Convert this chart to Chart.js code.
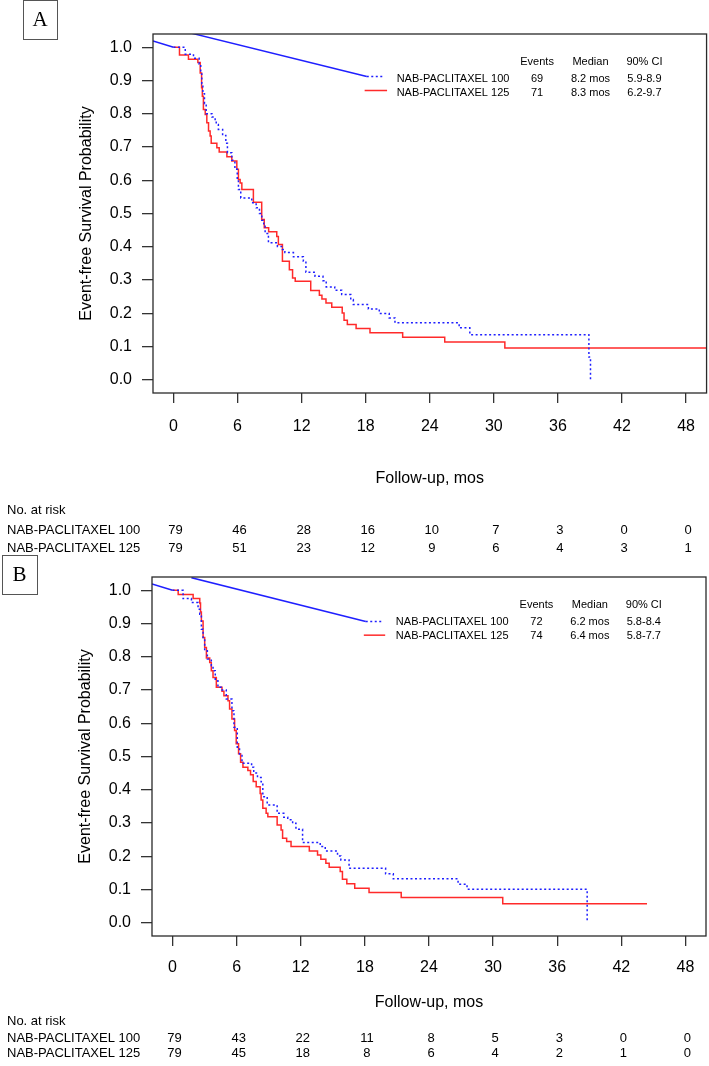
<!DOCTYPE html>
<html>
<head>
<meta charset="utf-8">
<script src="https://cdn.jsdelivr.net/npm/chart.js@4.4.1/dist/chart.umd.min.js"></script>
<style>
  html, body { margin: 0; padding: 0; background: #fff; }
  #page { position: relative; width: 709px; height: 1066px; overflow: hidden; }
  canvas { position: absolute; left: 0; }
  #chartA { top: 0; }
  #chartB { top: 545px; }
</style>
</head>
<body>
<div id="page">
  <canvas id="chartA" width="709" height="565"></canvas>
  <canvas id="chartB" width="709" height="521"></canvas>
</div>
<script>
// ---- shared axis / table labels ----
const xTicks = [0, 6, 12, 18, 24, 30, 36, 42, 48];
const yTicks = [0, 0.1, 0.2, 0.3, 0.4, 0.5, 0.6, 0.7, 0.8, 0.9, 1.0];
const armNames = ["NAB-PACLITAXEL 100", "NAB-PACLITAXEL 125"];
const tableHeads = ["Events", "Median", "90% CI"];

// ---- panel A ----
const timeA100 = [0, 1.1, 1.87, 2.4, 2.55, 2.65, 2.75, 2.9, 3.06, 3.6, 3.9, 4.0, 4.2, 4.6, 4.9, 5.05, 5.46, 5.75, 5.97, 6.08, 6.3, 7.33, 7.74, 8.05, 8.27, 8.45, 8.58, 8.89, 9.73, 10.2, 10.43, 11.23, 12.16, 12.4, 13.25, 14.0, 14.3, 15.1, 15.75, 16.6, 16.84, 18.25, 19.27, 20.2, 20.74, 26.75, 27.75, 38.9, 39.05];
const survA100 = [1.0, 0.979, 0.967, 0.95, 0.92, 0.89, 0.86, 0.83, 0.80, 0.79, 0.783, 0.768, 0.753, 0.735, 0.711, 0.683, 0.66, 0.633, 0.602, 0.572, 0.547, 0.532, 0.517, 0.50, 0.48, 0.462, 0.44, 0.412, 0.401, 0.392, 0.383, 0.37, 0.356, 0.323, 0.311, 0.298, 0.279, 0.269, 0.256, 0.241, 0.226, 0.213, 0.199, 0.186, 0.171, 0.156, 0.1355, 0.068, 0.0];
const timeA125 = [0, 0.56, 1.4, 2.28, 2.5, 2.63, 2.7, 2.8, 2.97, 3.12, 3.28, 3.43, 3.53, 4.06, 4.28, 5.0, 5.46, 5.93, 6.08, 6.24, 6.4, 7.48, 8.26, 8.5, 8.91, 9.67, 9.82, 10.2, 10.85, 11.15, 11.4, 12.85, 13.66, 13.9, 14.28, 14.82, 15.8, 15.97, 16.28, 17.1, 18.4, 21.46, 25.4, 31.03, 50];
const survA125 = [1.0, 0.977, 0.964, 0.954, 0.923, 0.878, 0.853, 0.813, 0.798, 0.773, 0.748, 0.733, 0.711, 0.698, 0.685, 0.671, 0.658, 0.633, 0.602, 0.592, 0.572, 0.534, 0.482, 0.457, 0.445, 0.431, 0.407, 0.356, 0.331, 0.306, 0.296, 0.268, 0.254, 0.243, 0.231, 0.218, 0.201, 0.179, 0.166, 0.154, 0.141, 0.1275, 0.1135, 0.0954, 0.0954];
const eventsA = ["69", "71"];
const medianA = ["8.2 mos", "8.3 mos"];
const ciA = ["5.9-8.9", "6.2-9.7"];
const riskA100 = [79, 46, 28, 16, 10, 7, 3, 0, 0];
const riskA125 = [79, 51, 23, 12, 9, 6, 4, 3, 1];
// stray solid blue segments and legend keys as they appear in the figure
const leadXA = [-1.92, 0], leadYA = [1.019, 1.0];
const diagXA = [1.72, 18.1], diagYA = [1.042, 0.912];
const key100XA = [18.1, 19.6], key100YA = [0.912, 0.912];
const key125XA = [17.9, 20.0], key125YA = [0.870, 0.870];

// ---- panel B ----
const timeB100 = [0, 0.99, 1.77, 2.39, 2.55, 2.7, 2.86, 3.01, 3.26, 3.63, 3.79, 4.0, 4.25, 4.56, 5.03, 5.56, 5.75, 6.06, 6.27, 6.5, 7.4, 7.6, 7.95, 8.29, 8.45, 8.86, 9.79, 10.41, 10.78, 11.24, 11.55, 12.17, 13.82, 14.29, 15.44, 15.75, 16.52, 19.94, 20.66, 26.72, 27.56, 38.8];
const survB100 = [1.0, 0.975, 0.963, 0.943, 0.928, 0.883, 0.858, 0.818, 0.793, 0.773, 0.758, 0.728, 0.708, 0.70, 0.673, 0.638, 0.588, 0.528, 0.503, 0.48, 0.468, 0.45, 0.437, 0.424, 0.379, 0.354, 0.329, 0.317, 0.31, 0.299, 0.281, 0.241, 0.229, 0.216, 0.201, 0.189, 0.164, 0.147, 0.132, 0.116, 0.101, 0.0];
const timeB125 = [0, 0.53, 1.93, 2.55, 2.62, 2.7, 2.86, 3.01, 3.17, 3.48, 3.63, 3.79, 4.1, 4.63, 4.81, 5.19, 5.34, 5.56, 5.81, 5.96, 6.18, 6.37, 6.59, 7.05, 7.3, 7.55, 7.83, 8.2, 8.29, 8.45, 8.76, 8.92, 9.79, 10.16, 10.3, 10.68, 11.09, 12.8, 13.57, 13.88, 14.35, 14.66, 15.69, 15.9, 16.31, 17.05, 18.39, 21.4, 30.9, 44.4];
const survB125 = [1.0, 0.987, 0.975, 0.962, 0.935, 0.908, 0.858, 0.828, 0.796, 0.783, 0.758, 0.738, 0.708, 0.696, 0.683, 0.668, 0.643, 0.613, 0.578, 0.538, 0.508, 0.483, 0.468, 0.458, 0.445, 0.425, 0.409, 0.389, 0.369, 0.344, 0.329, 0.319, 0.294, 0.279, 0.254, 0.244, 0.229, 0.216, 0.204, 0.191, 0.179, 0.167, 0.154, 0.131, 0.117, 0.104, 0.091, 0.076, 0.057, 0.057];
const eventsB = ["72", "74"];
const medianB = ["6.2 mos", "6.4 mos"];
const ciB = ["5.8-8.4", "5.8-7.7"];
const riskB100 = [79, 43, 22, 11, 8, 5, 3, 0, 0];
const riskB125 = [79, 45, 18, 8, 6, 4, 2, 1, 0];
const leadXB = [-1.92, 0], leadYB = [1.019, 1.0];
const diagXB = [1.77, 18.08], diagYB = [1.038, 0.906];
const key100XB = [18.08, 19.65], key100YB = [0.906, 0.906];
const key125XB = [17.9, 19.9], key125YB = [0.865, 0.865];

// -----------------------------------------------------------------------

const SANS = "'Liberation Sans', Arial, Helvetica, sans-serif";
const RED = "#ff2a2a";
const BLUE = "#1f1fff";

function pts(xs, ys) {
    return xs.map((t, i) => ({ x: t, y: ys[i] }));
}

// survival drops at each listed time: hold the previous level, then go down
function stepLine(xs, ys, color, dash) {
    return {
        data: pts(xs, ys),
        borderColor: color,
        borderWidth: 1.5,
        borderDash: dash || [],
        stepped: "before",
        pointRadius: 0,
        fill: false
    };
}

function plainLine(xs, ys, color, dash) {
    return {
        data: pts(xs, ys),
        borderColor: color,
        borderWidth: 1.5,
        borderDash: dash || [],
        pointRadius: 0,
        fill: false
    };
}

// Box, panel tag, legend table, axis titles, numbers at risk
const decor = {
    id: "decor",
    afterDraw(chart, args, o) {
        const { ctx, chartArea: a, scales: { x, y } } = chart;
        ctx.save();

        ctx.strokeStyle = "#2a2a2a";
        ctx.lineWidth = 1.3;
        ctx.strokeRect(a.left, a.top, a.right - a.left, a.bottom - a.top);

        // panel letter
        ctx.lineWidth = 1;
        ctx.strokeStyle = "#555";
        ctx.strokeRect(o.tag[0] + 0.5, o.tag[1] + 0.5, o.tag[2], o.tag[3]);
        ctx.fillStyle = "#000";
        ctx.font = "21px 'Liberation Serif', 'DejaVu Serif', serif";
        ctx.textAlign = "center";
        ctx.textBaseline = "middle";
        ctx.fillText(o.letter, o.tag[0] + o.tag[2] / 2, o.tag[1] + o.tag[3] / 2 + 1);

        // legend table
        ctx.font = "11px " + SANS;
        const colX = [34.05, 39.05, 44.1].map(v => x.getPixelForValue(v));
        const headY = y.getPixelForValue(0.955);
        const rowY = [0.904, 0.862].map(v => y.getPixelForValue(v));
        tableHeads.forEach((h, i) => ctx.fillText(h, colX[i], headY));
        for (let r = 0; r < 2; r++) {
            ctx.textAlign = "left";
            ctx.fillText(armNames[r], x.getPixelForValue(20.9), rowY[r]);
            ctx.textAlign = "center";
            ctx.fillText(o.events[r], colX[0], rowY[r]);
            ctx.fillText(o.median[r], colX[1], rowY[r]);
            ctx.fillText(o.ci[r], colX[2], rowY[r]);
        }

        // y title
        ctx.font = "16px " + SANS;
        ctx.save();
        ctx.translate(a.left - 66, (a.top + a.bottom) / 2);
        ctx.rotate(-Math.PI / 2);
        ctx.fillText("Event-free Survival Probability", 0, 0);
        ctx.restore();

        // x title
        ctx.fillText("Follow-up, mos", (a.left + a.right) / 2, a.bottom + o.rows[0]);

        // numbers at risk
        ctx.font = "13px " + SANS;
        ctx.textAlign = "left";
        ctx.fillText("No. at risk", 7, a.bottom + o.rows[1]);
        ctx.fillText(armNames[0], 7, a.bottom + o.rows[2]);
        ctx.fillText(armNames[1], 7, a.bottom + o.rows[3]);
        ctx.textAlign = "center";
        xTicks.forEach((t, i) => {
            const px = x.getPixelForValue(t) + 2;
            ctx.fillText(String(o.risk[0][i]), px, a.bottom + o.rows[2]);
            ctx.fillText(String(o.risk[1][i]), px, a.bottom + o.rows[3]);
        });

        ctx.restore();
    }
};

function kmChart(id, g, datasets, deco) {
    return new Chart(document.getElementById(id), {
        type: "line",
        data: { datasets },
        options: {
            responsive: false,
            animation: false,
            layout: { padding: { top: g.top, right: g.right, left: 0, bottom: 0 } },
            plugins: {
                legend: { display: false },
                tooltip: { enabled: false },
                decor: deco
            },
            scales: {
                x: {
                    type: "linear",
                    min: -1.92,
                    max: 49.92,
                    afterFit: s => { s.height = g.xh; },
                    afterBuildTicks: s => { s.ticks = xTicks.map(v => ({ value: v })); },
                    border: { display: false },
                    grid: { drawOnChartArea: false, drawTicks: true, tickLength: 10, color: "#333", lineWidth: 1.3 },
                    ticks: {
                        autoSkip: false, maxRotation: 0, color: "#000", padding: g.xpad,
                        font: { family: SANS, size: 16 },
                        callback: v => String(v)
                    }
                },
                y: {
                    min: -0.04,
                    max: 1.04,
                    afterFit: s => { s.width = g.yw; },
                    afterBuildTicks: s => { s.ticks = yTicks.map(v => ({ value: v })); },
                    border: { display: false },
                    grid: { drawOnChartArea: false, drawTicks: true, tickLength: 11, color: "#333", lineWidth: 1.3 },
                    ticks: {
                        color: "#000", padding: 10,
                        font: { family: SANS, size: 16 },
                        callback: v => v.toFixed(1)
                    }
                }
            }
        },
        plugins: [decor]
    });
}

kmChart("chartA", { top: 34, right: 1, xh: 172, yw: 153, xpad: 14 }, [
    plainLine(leadXA, leadYA, BLUE),
    plainLine(diagXA, diagYA, BLUE),
    plainLine(key100XA, key100YA, BLUE, [2, 2.5]),
    plainLine(key125XA, key125YA, RED),
    stepLine(timeA100, survA100, BLUE, [2, 2.5]),
    stepLine(timeA125, survA125, RED)
], {
    letter: "A", tag: [23, 0, 34, 39],
    events: eventsA, median: medianA, ci: ciA,
    risk: [riskA100, riskA125],
    rows: [86, 117, 137, 155]
});

kmChart("chartB", { top: 32, right: 3, xh: 130, yw: 152, xpad: 12 }, [
    plainLine(leadXB, leadYB, BLUE),
    plainLine(diagXB, diagYB, BLUE),
    plainLine(key100XB, key100YB, BLUE, [2, 2.5]),
    plainLine(key125XB, key125YB, RED),
    stepLine(timeB100, survB100, BLUE, [2, 2.5]),
    stepLine(timeB125, survB125, RED)
], {
    letter: "B", tag: [2, 10, 35, 39],
    events: eventsB, median: medianB, ci: ciB,
    risk: [riskB100, riskB125],
    rows: [67, 85, 102, 117]
});
</script>
</body>
</html>
